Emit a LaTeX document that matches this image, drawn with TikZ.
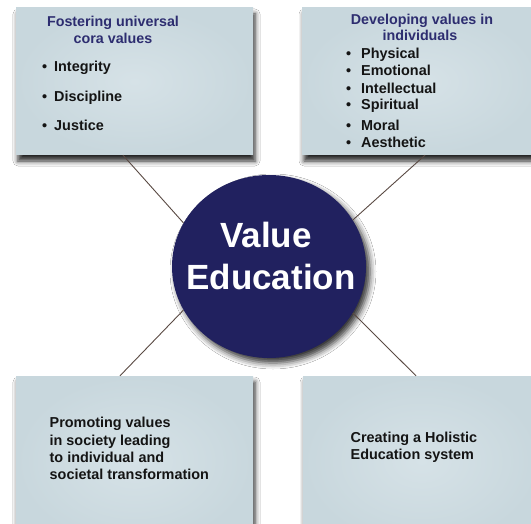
\documentclass[tikz,border=0pt]{standalone}
\usepackage{fontspec}
\setmainfont{Liberation Sans}
\usetikzlibrary{shadows.blur,shapes.geometric,calc}
\definecolor{boxfill}{HTML}{C8D7DD}
\definecolor{boxlight}{HTML}{D6E2E7}
\definecolor{navy}{HTML}{21215F}
\definecolor{titleblue}{HTML}{2D2D70}
\definecolor{connector}{HTML}{5A4A44}
\newcommand\mybullet[1]{\makebox[#1][l]{\textbullet}}
\tikzset{
  panel/.style={rectangle, draw=none, inner sep=0pt, minimum width=237pt,
    minimum height=147pt, inner color=boxlight, outer color=boxfill,
    blur shadow={shadow xshift=2pt, shadow yshift=-6pt, shadow blur radius=5pt, shadow opacity=85}},
  hub/.style={ellipse, fill=navy, draw=none, inner sep=0pt, minimum width=194pt, minimum height=183pt,
    blur shadow={shadow xshift=4pt, shadow yshift=-5pt, shadow blur radius=6pt, shadow opacity=80}},
  link/.style={draw=connector, line width=0.9pt},
  ttl/.style={font=\bfseries\fontsize{14.3}{17}\selectfont, text=titleblue, inner sep=0pt, anchor=base},
  itm/.style={font=\bfseries\fontsize{14.4}{17}\selectfont, text=black!92, inner sep=0pt, anchor=base west},
  hubtxt/.style={font=\bfseries\fontsize{35}{40}\selectfont, text=white, inner sep=0pt, anchor=base},
}
\begin{document}
\begin{tikzpicture}[x=1pt,y=-1pt]
\useasboundingbox (0,0) rectangle (531,524);
\fill[white] (0,0) rectangle (531,524);
% panels
\node[panel] (tl) at (134.5,81.5) {};
\node[panel] (tr) at (420.5,81.5) {};
\node[panel, minimum height=170pt] (bl) at (134.5,461) {};
\node[panel, minimum height=170pt] (br) at (421.5,461) {};
% hub
\node[hub] (ve) at (269,266.5) {};
% connectors
\draw[link] ($(tl.south)+(-11.5,0)$) -- (ve.153);
\draw[link] ($(tr.south)+(4.5,0)$) -- (ve.29);
\draw[link] ($(bl.north)+(-14.5,0)$) -- (ve.207.6);
\draw[link] ($(br.north)+(-5.5,0)$) -- (ve.331);
% hub text
\node[hubtxt] (v1) at (266,248) {Value};
\node[hubtxt] (v2) at (271,290) {Education};
% top-left text
\node[ttl] (tlt1) at (113,27) {Fostering universal};
\node[ttl] (tlt2) at (113,44) {cora values};
\node[itm] (tli1) at (42,72) {\mybullet{12pt}Integrity};
\node[itm] (tli2) at (42,102) {\mybullet{12pt}Discipline};
\node[itm] (tli3) at (42,131) {\mybullet{12pt}Justice};
% top-right text
\node[ttl] (trt1) at (422,25) {Developing values in};
\node[ttl] (trt2) at (420,41) {individuals};
\node[itm] (tri1) at (346,58.3) {\mybullet{15pt}Physical};
\node[itm] (tri2) at (346,75.3) {\mybullet{15pt}Emotional};
\node[itm] (tri3) at (346,93.3) {\mybullet{15pt}Intellectual};
\node[itm] (tri4) at (346,110) {\mybullet{15pt}Spiritual};
\node[itm] (tri5) at (346,130.7) {\mybullet{15pt}Moral};
\node[itm] (tri6) at (346,147.7) {\mybullet{15pt}Aesthetic};
% bottom-left text
\node[itm] (bl1) at (49.5,428) {Promoting values};
\node[itm] (bl2) at (49.5,445) {in society leading};
\node[itm] (bl3) at (49.5,462) {to individual and};
\node[itm] (bl4) at (49.5,479) {societal transformation};
% bottom-right text
\node[itm] (br1) at (350.5,442) {Creating a Holistic};
\node[itm] (br2) at (350.5,459) {Education system};
\end{tikzpicture}
\end{document}
